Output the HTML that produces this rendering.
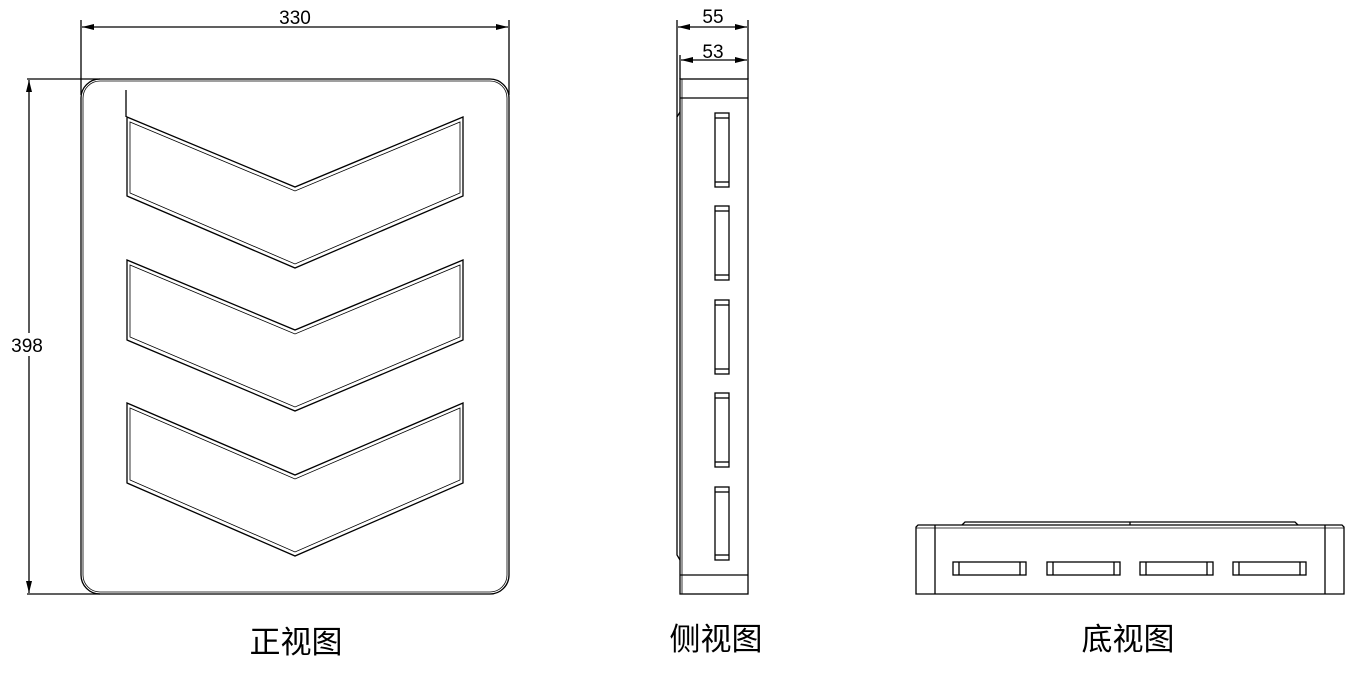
<!DOCTYPE html>
<html><head><meta charset="utf-8"><style>
html,body{margin:0;padding:0;background:#fff;}
svg{display:block}
</style></head><body>
<svg width="1360" height="675" xmlns="http://www.w3.org/2000/svg">
<defs>
<marker id="ar" viewBox="0 0 12 6" refX="12" refY="3" markerWidth="12" markerHeight="6" markerUnits="userSpaceOnUse" orient="auto-start-reverse"><path d="M0,0 L12,3 L0,6z" fill="#000"/></marker>
</defs>
<g fill="none" stroke="#000" stroke-width="1.3">
<line x1="81" y1="20" x2="81" y2="95"/>
<line x1="509" y1="20" x2="509" y2="95"/>
<line x1="82" y1="27" x2="508" y2="27" marker-start="url(#ar)" marker-end="url(#ar)"/>
<line x1="27" y1="79" x2="100" y2="79"/>
<line x1="27" y1="594" x2="100" y2="594"/>
<line x1="29" y1="80" x2="29" y2="333" marker-start="url(#ar)"/>
<line x1="29" y1="356" x2="29" y2="593" marker-end="url(#ar)"/>
<rect x="81" y="79" width="428" height="515" rx="19"/>
<rect x="83" y="81" width="424" height="511" rx="17" stroke-width="0.8"/>
<line x1="126" y1="90" x2="126" y2="117"/>
<g>
<path d="M127,117 L295,187 L463,117 L463,196 L295,268 L127,196 Z"/>
<path d="M130,122 L295,191 L460,122 L460,193 L295,264 L130,193 Z" stroke-width="0.8"/>
<path d="M127,260 L295,330 L463,260 L463,340 L295,411 L127,340 Z"/>
<path d="M130,265 L295,334 L460,265 L460,337 L295,407 L130,337 Z" stroke-width="0.8"/>
<path d="M127,403 L295,475 L463,403 L463,483 L295,556 L127,483 Z"/>
<path d="M130,408 L295,479 L460,408 L460,480 L295,552 L130,480 Z" stroke-width="0.8"/>
</g>
<line x1="677" y1="20" x2="677" y2="117"/>
<line x1="748" y1="20" x2="748" y2="79"/>
<line x1="678" y1="27" x2="747" y2="27" marker-start="url(#ar)" marker-end="url(#ar)"/>
<line x1="680" y1="55" x2="680" y2="79"/>
<line x1="681" y1="60" x2="747" y2="60" marker-start="url(#ar)" marker-end="url(#ar)"/>
<rect x="680" y="79" width="68" height="515"/>
<line x1="682" y1="79" x2="682" y2="594" stroke-width="0.8"/>
<line x1="680" y1="98" x2="748" y2="98"/>
<line x1="680" y1="575" x2="748" y2="575"/>
<path d="M680,112 L677,117 L677,555 L680,560"/>
<g>
<rect x="715" y="113" width="14" height="74"/><line x1="715" y1="118" x2="729" y2="118"/><line x1="715" y1="182" x2="729" y2="182"/>
<rect x="715" y="206" width="14" height="74"/><line x1="715" y1="211" x2="729" y2="211"/><line x1="715" y1="275" x2="729" y2="275"/>
<rect x="715" y="300" width="14" height="74"/><line x1="715" y1="305" x2="729" y2="305"/><line x1="715" y1="369" x2="729" y2="369"/>
<rect x="715" y="393" width="14" height="74"/><line x1="715" y1="398" x2="729" y2="398"/><line x1="715" y1="462" x2="729" y2="462"/>
<rect x="715" y="487" width="14" height="73"/><line x1="715" y1="492" x2="729" y2="492"/><line x1="715" y1="555" x2="729" y2="555"/>
</g>
<path d="M916,594 L916,527 L918,525 L1342,525 L1344,527 L1344,594 Z"/>
<line x1="916" y1="528" x2="1344" y2="528" stroke-width="0.8"/>
<line x1="935" y1="525" x2="935" y2="594"/>
<line x1="1325" y1="525" x2="1325" y2="594"/>
<path d="M962,525 L965,522 L1295,522 L1298,525"/>
<line x1="1130" y1="522" x2="1130" y2="525"/>
<g>
<rect x="953" y="562" width="73" height="13"/><line x1="959" y1="562" x2="959" y2="575"/><line x1="1020" y1="562" x2="1020" y2="575"/>
<rect x="1047" y="562" width="73" height="13"/><line x1="1053" y1="562" x2="1053" y2="575"/><line x1="1114" y1="562" x2="1114" y2="575"/>
<rect x="1140" y="562" width="73" height="13"/><line x1="1146" y1="562" x2="1146" y2="575"/><line x1="1207" y1="562" x2="1207" y2="575"/>
<rect x="1233" y="562" width="73" height="13"/><line x1="1239" y1="562" x2="1239" y2="575"/><line x1="1300" y1="562" x2="1300" y2="575"/>
</g>
</g>
<g font-family="'Liberation Sans', sans-serif" font-size="19" fill="#000" text-anchor="middle">
<text x="295" y="24">330</text>
<text x="27" y="352">398</text>
<text x="713" y="23">55</text>
<text x="713" y="58">53</text>
</g>
<g font-family="'Liberation Sans','Noto Sans CJK SC',sans-serif" font-size="31" fill="#000" text-anchor="middle">
<text x="296" y="653">正视图</text>
<text x="716" y="650">侧视图</text>
<text x="1128" y="650">底视图</text>
</g>
</svg>
</body></html>
